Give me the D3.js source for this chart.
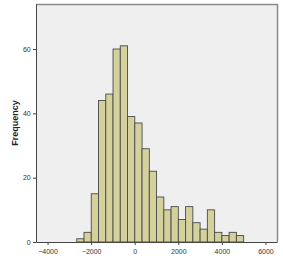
<!DOCTYPE html>
<html>
<head>
<meta charset="utf-8">
<script src="https://cdn.jsdelivr.net/npm/d3@7"></script>
<style>
  body { margin: 0; background: #fff; }
  text { font-family: Arial, "Liberation Sans", sans-serif; }
</style>
</head>
<body>
<svg id="chart" width="283" height="258"></svg>
<script>
// histogram counts, bins of ~333 starting at -2660
const binStart = -2660;
const binWidth = 333;
const counts = [1, 3, 15, 44, 46, 60, 61, 39, 37, 29, 22, 14, 10, 11, 7, 11, 6, 4, 10, 3, 2, 3, 2];
const xTicks = [-4000, -2000, 0, 2000, 4000, 6000];
const yTicks = [0, 20, 40, 60];

drawChart();

function drawChart(){
  const svg = d3.select("#chart");
  const left = 36, right = 277, top = 4, bottom = 242;

  const x = d3.scaleLinear().domain([-4530, 6530]).range([left, right]);
  const y = d3.scaleLinear().domain([0, 74]).range([bottom, top]);

  // plot background + frame
  svg.append("rect")
    .attr("x", left).attr("y", top)
    .attr("width", right - left).attr("height", bottom - top)
    .attr("fill", "#efefef");
  svg.append("path")
    .attr("d", `M${left},${top + 0.5}H${right + 0.5}V${bottom}`)
    .attr("fill", "none")
    .attr("stroke", "#8a8a8a")
    .attr("stroke-width", 1.5);

  const bins = counts.map((c, i) => ({x0: binStart + i * binWidth, x1: binStart + (i + 1) * binWidth, n: c}));

  svg.append("g")
    .selectAll("rect")
    .data(bins)
    .enter()
    .append("rect")
    .attr("x", d => x(d.x0))
    .attr("y", d => y(d.n))
    .attr("width", d => x(d.x1) - x(d.x0))
    .attr("height", d => y(0) - y(d.n))
    .attr("fill", "#d5d19c")
    .attr("stroke", "#4a4a4a")
    .attr("stroke-width", 0.9);

  const xAxis = svg.append("g")
    .attr("transform", `translate(0,${bottom})`)
    .call(d3.axisBottom(x).tickValues(xTicks).tickSize(3).tickSizeOuter(0).tickFormat(d3.format("d")));
  const yAxis = svg.append("g")
    .attr("transform", `translate(${left},0)`)
    .call(d3.axisLeft(y).tickValues(yTicks).tickSize(3).tickSizeOuter(0));

  [xAxis, yAxis].forEach(a => {
    a.select(".domain").attr("stroke", "#444").attr("stroke-width", 1);
    a.selectAll(".tick line").attr("stroke", "#444");
    a.selectAll("text").attr("font-size", 7).attr("fill", "#333");
  });
  xAxis.selectAll("text").attr("dy", "0.9em");
  yAxis.selectAll("text").attr("dx", "0.1em");

  svg.append("text")
    .attr("transform", `translate(18,${(top + bottom) / 2}) rotate(-90)`)
    .attr("text-anchor", "middle")
    .attr("font-size", 9)
    .attr("font-weight", "bold")
    .attr("fill", "#222")
    .text("Frequency");
}
</script>
</body>
</html>
